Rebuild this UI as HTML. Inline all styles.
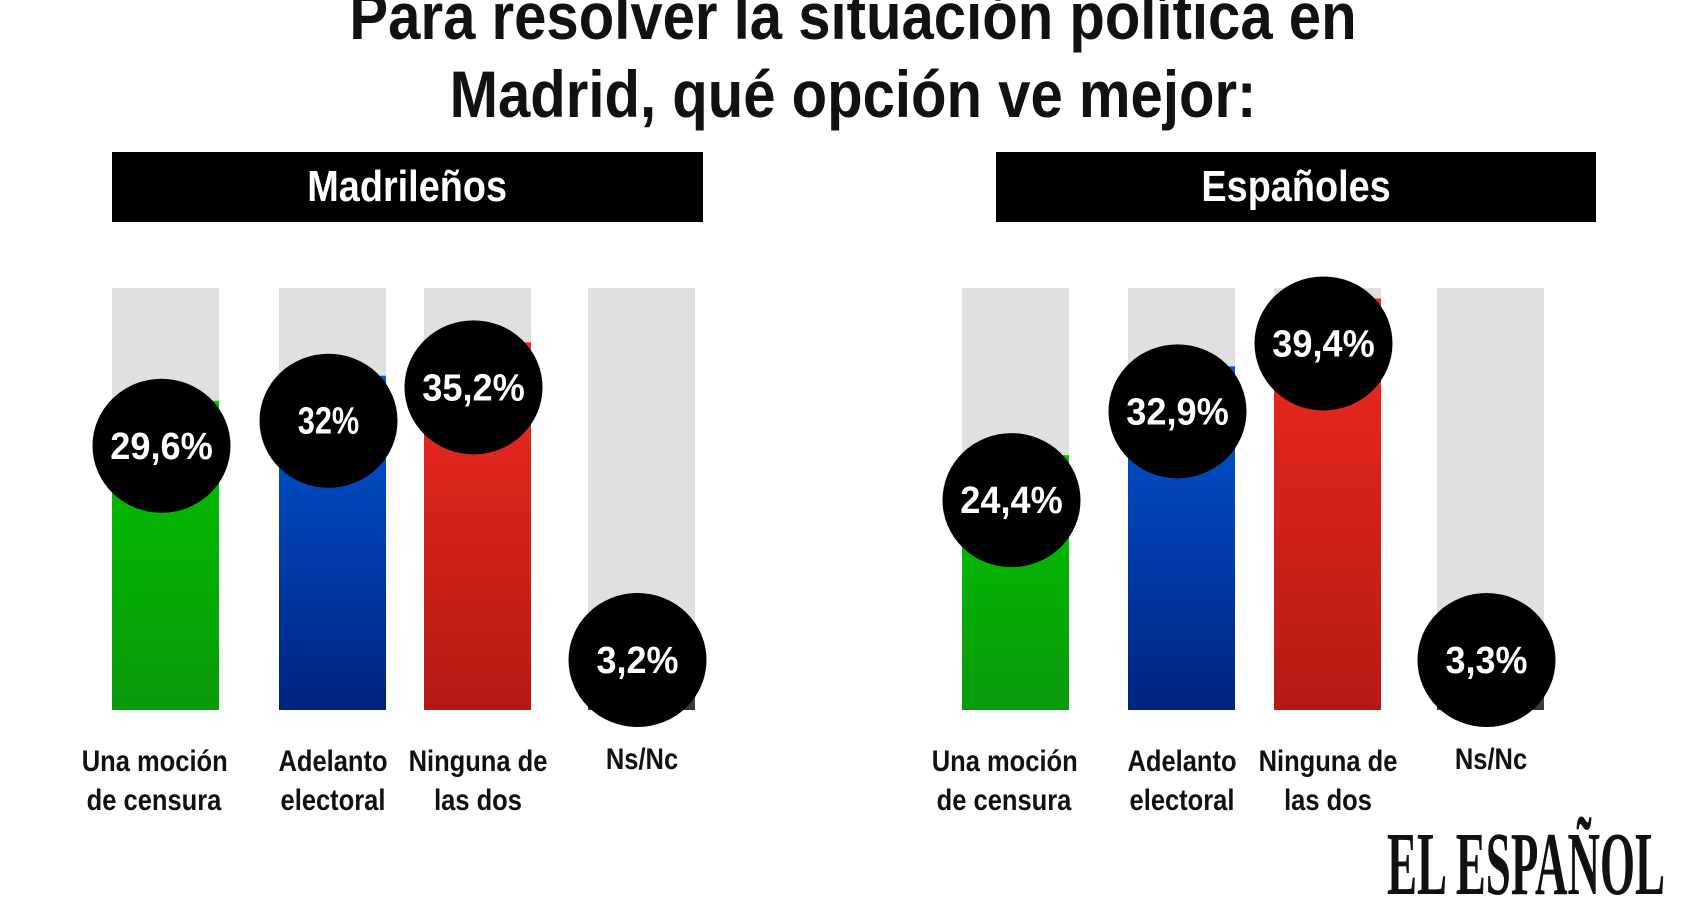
<!DOCTYPE html>
<html><head><meta charset="utf-8">
<style>
body{margin:0;width:1706px;height:853px;overflow:hidden;background:#fff;font-family:"Liberation Sans",sans-serif;font-weight:bold;position:relative}
.t{position:absolute;left:0;width:1706px;text-align:center;font-size:66px;color:#111;line-height:1;transform:scaleX(0.88);white-space:nowrap}
.hdr{position:absolute;background:#000;color:#fff;font-size:44px;text-align:center;line-height:70px;height:70px}
.hdr span{display:inline-block;transform:scaleX(0.86)}
.lbl{position:absolute;width:170px;text-align:center;font-size:30px;color:#111;line-height:39px;white-space:nowrap;transform:scaleX(0.85)}
.logo{position:absolute;left:1387px;top:820px;font-family:"Liberation Serif",serif;font-size:90px;font-weight:bold;color:#111;white-space:nowrap;transform:scaleX(0.50);transform-origin:left top;line-height:1}
</style></head><body>
<div class="t" style="top:-17px">Para resolver la situación política en</div>
<div class="t" style="top:61px">Madrid, qué opción ve mejor:</div>
<div class="hdr" style="left:112px;top:152px;width:591px"><span>Madrileños</span></div>
<div class="hdr" style="left:996px;top:152px;width:600px"><span>Españoles</span></div>
<svg id="chart" width="1706" height="853" style="position:absolute;left:0;top:0">
<defs>
<linearGradient id="g0" x1="0" y1="0" x2="0" y2="1"><stop offset="0" stop-color="#00c400"/><stop offset="1" stop-color="#0a9a0a"/></linearGradient>
<linearGradient id="g1" x1="0" y1="0" x2="0" y2="1"><stop offset="0" stop-color="#0058d8"/><stop offset="1" stop-color="#00237f"/></linearGradient>
<linearGradient id="g2" x1="0" y1="0" x2="0" y2="1"><stop offset="0" stop-color="#f02a20"/><stop offset="1" stop-color="#b41a15"/></linearGradient>
<linearGradient id="g3" x1="0" y1="0" x2="0" y2="1"><stop offset="0" stop-color="#666"/><stop offset="1" stop-color="#333"/></linearGradient>
</defs>
</svg>
<div class="logo">EL ESPAÑOL</div>
<script>
const categories=["Una moción|de censura","Adelanto|electoral","Ninguna de|las dos","Ns/Nc"];
const madridValues=[29.6,32,35.2,3.2];
const espanaValues=[24.4,32.9,39.4,3.3];
const madridLabels=["29,6%","32%","35,2%","3,2%"];
const espanaLabels=["24,4%","32,9%","39,4%","3,3%"];
const yMax=40.4;
const baseY=710, topY=288;
function y(v){return baseY-(v/yMax)*(baseY-topY);}
const svg=document.getElementById('chart');
const NS='http://www.w3.org/2000/svg';
const panels=[{x:[112,279,424,588],vals:madridValues,labs:madridLabels,id:'madrid'},{x:[962,1128,1274,1437],vals:espanaValues,labs:espanaLabels,id:'espana'}];
const W=107;
panels.forEach(p=>{
 p.vals.forEach((v,i)=>{
  const bx=p.x[i];
  const bg=document.createElementNS(NS,'rect');
  bg.setAttribute('x',bx);bg.setAttribute('y',topY);bg.setAttribute('width',W);bg.setAttribute('height',baseY-topY);bg.setAttribute('fill','#e0e0e0');
  
  
  svg.appendChild(bg);
  const r=document.createElementNS(NS,'rect');
  r.setAttribute('x',bx);r.setAttribute('y',y(v));r.setAttribute('width',W);r.setAttribute('height',baseY-y(v));r.setAttribute('fill','url(#g'+i+')');
  
  
  svg.appendChild(r);
  const cx=bx+W/2-4, cy=Math.min(y(v)+45,baseY-50);
  const c=document.createElementNS(NS,'ellipse');
  c.setAttribute('cx',cx);c.setAttribute('cy',cy);c.setAttribute('rx',69);c.setAttribute('ry',67);c.setAttribute('fill','#000');
  
  
  svg.appendChild(c);
  const t=document.createElementNS(NS,'text');
  t.setAttribute('x',cx);t.setAttribute('y',cy+13);t.setAttribute('text-anchor','middle');t.setAttribute('fill','#fff');
  t.setAttribute('font-size','38');t.setAttribute('font-weight','bold');t.setAttribute('font-family','"Liberation Sans",sans-serif');
  t.setAttribute('textLength',String(p.labs[i].length*20.5));
  t.setAttribute('lengthAdjust','spacingAndGlyphs');
  t.textContent=p.labs[i];
  
  
  svg.appendChild(t);
  const d=document.createElement('div');
  d.className='lbl';
  d.style.left=(bx+W/2-85-(i==0?12:0))+'px';
  d.style.top=(i==3?740:742)+'px';
  d.innerHTML=categories[i].replace('|','<br>');
  
  
  document.body.appendChild(d);
 });
});
</script>
</body></html>
